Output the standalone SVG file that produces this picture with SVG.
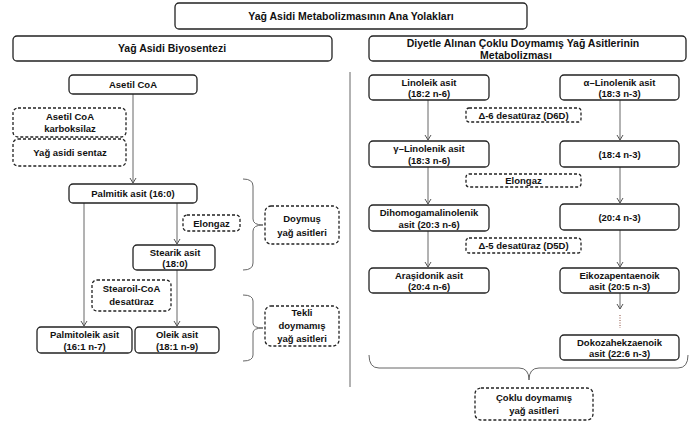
<svg xmlns="http://www.w3.org/2000/svg" width="696" height="423" viewBox="0 0 696 423">
<style>
.b{fill:#fff;stroke:#222;stroke-width:1.3}
.d{fill:#fff;stroke:#222;stroke-width:1.3;stroke-dasharray:3 2}
text{font-family:"Liberation Sans",Arial,sans-serif;font-weight:bold;font-size:9.5px;fill:#111;text-anchor:middle}
.t{font-size:10.5px}
.h{font-size:10.5px}
.c{fill:none;stroke:#666;stroke-width:1}
</style>
<defs>
<marker id="ah" markerUnits="userSpaceOnUse" markerWidth="10" markerHeight="10" refX="6" refY="4" orient="auto">
<path d="M1,1 L6,4 L1,7" fill="none" stroke="#555" stroke-width="1"/>
</marker>
</defs>
<rect width="696" height="423" fill="#fff"/>
<g id="connectors">
<line class="c" x1="133" y1="94" x2="133" y2="183" marker-end="url(#ah)"/>
<line class="c" x1="84" y1="203" x2="84" y2="326" marker-end="url(#ah)"/>
<line class="c" x1="177" y1="203" x2="177" y2="244" marker-end="url(#ah)"/>
<line class="c" x1="177" y1="270" x2="177" y2="326" marker-end="url(#ah)"/>
<path class="c" d="M243,179 Q253,179 253,186 L253,219 Q253,225 263,225 Q253,225 253,231 L253,263 Q253,270 243,270"/>
<path class="c" d="M243,295 Q253,295 253,301 L253,323 Q253,328 263,328 Q253,328 253,333 L253,355 Q253,361 243,361"/>
<line class="c" x1="350" y1="72" x2="350" y2="387"/>
<line class="c" x1="428" y1="100" x2="428" y2="140" marker-end="url(#ah)"/>
<line class="c" x1="428" y1="167" x2="428" y2="204" marker-end="url(#ah)"/>
<line class="c" x1="428" y1="231" x2="428" y2="267" marker-end="url(#ah)"/>
<line class="c" x1="620" y1="100" x2="620" y2="140" marker-end="url(#ah)"/>
<line class="c" x1="620" y1="167" x2="620" y2="203" marker-end="url(#ah)"/>
<line class="c" x1="620" y1="230" x2="620" y2="267" marker-end="url(#ah)"/>
<line class="c" x1="620" y1="293" x2="620" y2="309" marker-end="url(#ah)"/>
<line x1="620" y1="315" x2="620" y2="328" stroke="#8a4a3a" stroke-width="1" stroke-dasharray="1 1.5"/>
<path class="c" d="M369,355 Q369,368 379,368 L519,368 Q529,368 529,380 Q529,368 539,368 L678,368 Q688,368 688,355"/>
</g>
<g id="title"><rect class="b" x="175" y="3" width="352" height="26" rx="4"/><text class="t" x="351" y="20">Yağ Asidi Metabolizmasının Ana Yolakları</text></g>
<g id="biyosentez"><rect class="b" x="13" y="36" width="319" height="25" rx="4"/><text class="h" x="172" y="52">Yağ Asidi Biyosentezi</text></g>
<g id="diyet"><rect class="b" x="369" y="36" width="317" height="25" rx="4"/><text class="h" x="523" y="47">Diyetle Alınan Çoklu Doymamış Yağ Asitlerinin</text><text class="h" x="516" y="58.5">Metabolizması</text></g>
<g id="asetilcoa"><rect class="b" x="69" y="75" width="128" height="19" rx="4"/><text x="133" y="88">Asetil CoA</text></g>
<g id="karboksilaz"><rect class="d" x="13" y="108" width="113" height="29" rx="5"/><text x="70" y="119.5">Asetil CoA</text><text x="70" y="131.5">karboksilaz</text></g>
<g id="sentaz"><rect class="d" x="13" y="139" width="113" height="27" rx="5"/><text x="70" y="156">Yağ asidi sentaz</text></g>
<g id="palmitik"><rect class="b" x="69" y="184" width="128" height="19" rx="4"/><text x="133" y="197">Palmitik asit (16:0)</text></g>
<g id="elongaz1"><rect class="d" x="183" y="215" width="57" height="16" rx="4"/><text x="211.5" y="227">Elongaz</text></g>
<g id="stearik"><rect class="b" x="133" y="245" width="82" height="25" rx="4"/><text x="175" y="256">Stearik asit</text><text x="175" y="267">(18:0)</text></g>
<g id="stearoil"><rect class="d" x="92" y="280" width="79" height="31" rx="5"/><text x="131.5" y="292">Stearoil-CoA</text><text x="131.5" y="305">desatüraz</text></g>
<g id="palmitoleik"><rect class="b" x="37" y="327" width="95" height="26" rx="4"/><text x="84.5" y="338">Palmitoleik asit</text><text x="84.5" y="350">(16:1 n-7)</text></g>
<g id="oleik"><rect class="b" x="135" y="327" width="84" height="26" rx="4"/><text x="177" y="338">Oleik asit</text><text x="177" y="350">(18:1 n-9)</text></g>
<g id="doymus"><rect class="d" x="265" y="206" width="74" height="38" rx="6"/><text x="302" y="222">Doymuş</text><text x="302" y="236">yağ asitleri</text></g>
<g id="tekli"><rect class="d" x="265" y="306" width="74" height="40" rx="6"/><text x="302" y="316">Tekli</text><text x="302" y="329">doymamış</text><text x="302" y="342">yağ asitleri</text></g>
<g id="linoleik"><rect class="b" x="369" y="75" width="120" height="25" rx="4"/><text x="429" y="86">Linoleik asit</text><text x="429" y="97">(18:2 n-6)</text></g>
<g id="alinolenik"><rect class="b" x="560" y="75" width="119" height="25" rx="4"/><text x="619.5" y="86">α–Linolenik asit</text><text x="619.5" y="97">(18:3 n-3)</text></g>
<g id="d6d"><rect class="d" x="466" y="108" width="115" height="14" rx="3"/><text x="523.5" y="118.5">Δ-6 desatüraz (D6D)</text></g>
<g id="glinolenik"><rect class="b" x="369" y="141" width="120" height="26" rx="4"/><text x="429" y="152">γ–Linolenik asit</text><text x="429" y="163.5">(18:3 n-6)</text></g>
<g id="n3_184"><rect class="b" x="560" y="141" width="119" height="26" rx="4"/><text x="619.5" y="158">(18:4 n-3)</text></g>
<g id="elongaz2"><rect class="d" x="466" y="174" width="115" height="13" rx="3"/><text x="523.5" y="184">Elongaz</text></g>
<g id="dihomo"><rect class="b" x="369" y="205" width="120" height="26" rx="4"/><text x="429" y="216">Dihomogamalinolenik</text><text x="429" y="228">asit (20:3 n-6)</text></g>
<g id="n3_204"><rect class="b" x="560" y="204" width="119" height="26" rx="4"/><text x="619.5" y="221">(20:4 n-3)</text></g>
<g id="d5d"><rect class="d" x="466" y="238" width="115" height="15" rx="3"/><text x="523.5" y="249">Δ-5 desatüraz (D5D)</text></g>
<g id="arasidonik"><rect class="b" x="369" y="268" width="120" height="25" rx="4"/><text x="429" y="279">Araşidonik asit</text><text x="429" y="290">(20:4 n-6)</text></g>
<g id="eikoza"><rect class="b" x="560" y="268" width="119" height="25" rx="4"/><text x="619.5" y="279">Eikozapentaenoik</text><text x="619.5" y="290">asit (20:5 n-3)</text></g>
<g id="dokoza"><rect class="b" x="560" y="335" width="119" height="25" rx="4"/><text x="619.5" y="346">Dokozahekzaenoik</text><text x="619.5" y="357">asit (22:6 n-3)</text></g>
<g id="coklu"><rect class="d" x="475" y="388" width="118" height="32" rx="6"/><text x="534" y="401">Çoklu doymamış</text><text x="534" y="414">yağ asitleri</text></g>
</svg>
